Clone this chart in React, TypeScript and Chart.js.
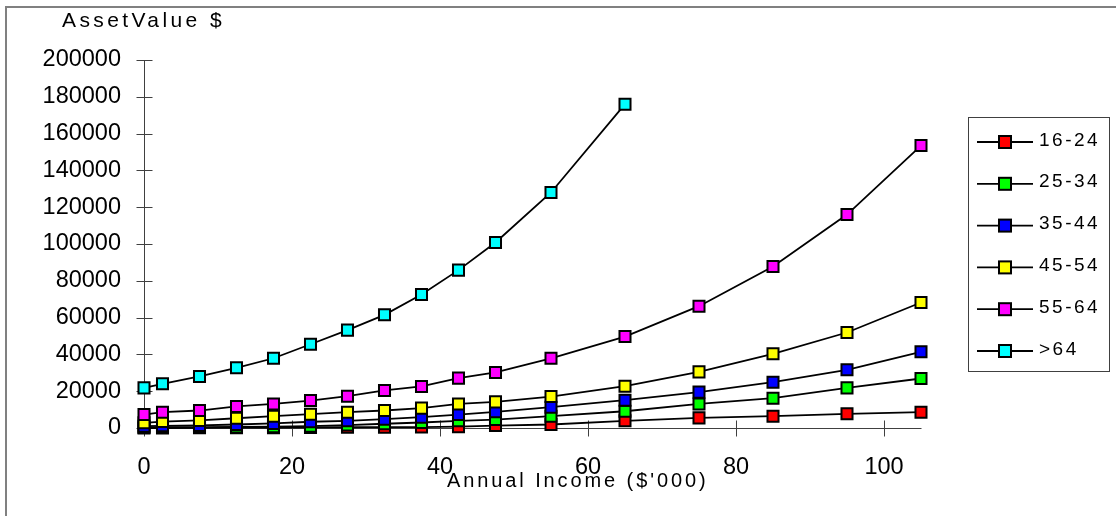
import React, { useEffect, useRef } from 'react';
import { Chart, registerables } from 'chart.js';

Chart.register(...registerables);

// Annual income ($'000) at which each age group was sampled
const incomeLevels = [0, 2.5, 7.5, 12.5, 17.5, 22.5, 27.5, 32.5, 37.5, 42.5, 47.5, 55, 65, 75, 85, 95, 105];

const ageGroups = ['16-24', '25-34', '35-44', '45-54', '55-64', '>64'];

// Asset value ($) per age group, one entry per income level
const assets16to24 = [0, 0, 100, 150, 200, 300, 400, 450, 500, 700, 1300, 1900, 3900, 5500, 6400, 7700, 8600];
const assets25to34 = [300, 400, 500, 600, 700, 1000, 1600, 2300, 3000, 3900, 4600, 6400, 9100, 13100, 16200, 21800, 26900];
const assets35to44 = [1000, 1200, 1400, 1900, 2500, 3400, 3900, 4800, 5900, 7300, 8800, 11300, 15100, 19500, 24900, 31600, 41400];
const assets45to54 = [2800, 3500, 4100, 5300, 6400, 7500, 8600, 9500, 10800, 13100, 14200, 17100, 22700, 30500, 40300, 51900, 68200];
const assets55to64 = [7300, 8600, 9500, 11700, 13100, 14900, 17300, 20400, 22600, 27100, 30200, 37900, 49700, 66200, 87800, 116000, 153500];
const assetsOver64 = [21800, 24000, 28000, 32700, 37900, 45500, 53200, 61500, 72600, 85800, 100800, 128000, 176000];

const seriesValues = [assets16to24, assets25to34, assets35to44, assets45to54, assets55to64, assetsOver64];
const seriesColors = ['#ff0000', '#00ff00', '#0000ff', '#ffff00', '#ff00ff', '#00ffff'];

const xTickValues = [0, 20, 40, 60, 80, 100];
const yTickValues = [0, 20000, 40000, 60000, 80000, 100000, 120000, 140000, 160000, 180000, 200000];

const xMax = 105;
const yMax = 200000;

const yAxisTitle = 'AssetValue $';
const xAxisTitle = "Annual Income ($'000)";

const FONT = '"Liberation Sans", Arial, sans-serif';
const AXIS_COLOR = '#404040';
const TICK_HALF = 8;

// Axes with ticks that cross the axis line, drawn under the series
const axesPlugin = {
  id: 'crossAxes',
  beforeDatasetsDraw(chart: any) {
    const { ctx } = chart;
    const xs = chart.scales.x;
    const ys = chart.scales.y;
    const left = Math.round(xs.getPixelForValue(0)) + 0.5;
    const right = Math.round(xs.getPixelForValue(xMax)) + 0.5;
    const bottom = Math.round(ys.getPixelForValue(0)) + 0.5;
    const top = Math.round(ys.getPixelForValue(yMax)) + 0.5;
    ctx.save();
    ctx.strokeStyle = AXIS_COLOR;
    ctx.lineWidth = 1;
    ctx.beginPath();
    ctx.moveTo(left, top);
    ctx.lineTo(left, bottom);
    ctx.moveTo(left, bottom);
    ctx.lineTo(right, bottom);
    yTickValues.forEach((v) => {
      const py = Math.round(ys.getPixelForValue(v)) + 0.5;
      ctx.moveTo(left - TICK_HALF, py);
      ctx.lineTo(left + TICK_HALF, py);
    });
    xTickValues.forEach((v) => {
      const px = Math.round(xs.getPixelForValue(v)) + 0.5;
      ctx.moveTo(px, bottom - TICK_HALF);
      ctx.lineTo(px, bottom + TICK_HALF);
    });
    ctx.stroke();
    ctx.restore();
  },
};

// Outer frame, axis titles and the boxed legend
const decorPlugin = {
  id: 'decor',
  afterDraw(chart: any) {
    const { ctx } = chart;
    ctx.save();

    ctx.strokeStyle = '#808080';
    ctx.lineWidth = 2;
    ctx.strokeRect(6, 7, 1200, 600);

    ctx.fillStyle = '#000';
    ctx.textAlign = 'left';
    ctx.textBaseline = 'alphabetic';
    ctx.font = `21px ${FONT}`;
    ctx.letterSpacing = '3.4px';
    ctx.fillText(yAxisTitle, 62, 27);

    ctx.font = `20px ${FONT}`;
    ctx.letterSpacing = '2.9px';
    ctx.fillText(xAxisTitle, 447, 487);

    // legend
    const boxL = 968.5, boxT = 117.5, boxW = 141, boxH = 254;
    ctx.letterSpacing = '0px';
    ctx.strokeStyle = AXIS_COLOR;
    ctx.lineWidth = 1;
    ctx.strokeRect(boxL, boxT, boxW, boxH);

    chart.data.datasets.forEach((ds: any, i: number) => {
      const cy = 142 + i * 41.8;
      ctx.strokeStyle = '#000';
      ctx.lineWidth = 1.8;
      ctx.beginPath();
      ctx.moveTo(977, cy);
      ctx.lineTo(1033, cy);
      ctx.stroke();
      ctx.fillStyle = ds.pointBackgroundColor;
      ctx.lineWidth = 2;
      ctx.fillRect(999, cy - 6, 12, 12);
      ctx.strokeRect(999, cy - 6, 12, 12);
      ctx.fillStyle = '#000';
      ctx.font = `19px ${FONT}`;
      ctx.letterSpacing = '2.5px';
      ctx.fillText(ds.label, 1039, cy + 3.5);
      ctx.letterSpacing = '0px';
    });

    ctx.restore();
  },
};

export default function App() {
  const canvasRef = useRef<HTMLCanvasElement | null>(null);

  useEffect(() => {
    if (!canvasRef.current) return;
    const datasets = ageGroups.map((label, i) => ({
      label,
      data: seriesValues[i].map((v, j) => ({ x: incomeLevels[j], y: v })),
      borderColor: '#000',
      borderWidth: 1.8,
      pointStyle: 'rect',
      pointRadius: 7.8,
      pointBorderWidth: 2,
      pointBorderColor: '#000',
      pointBackgroundColor: seriesColors[i],
      tension: 0,
      fill: false,
      clip: false,
      order: ageGroups.length - i,
    }));

    const chart = new Chart(canvasRef.current, {
      type: 'line',
      data: { datasets },
      plugins: [axesPlugin, decorPlugin],
      options: {
        animation: false,
        responsive: false,
        devicePixelRatio: 1,
        events: [],
        layout: { padding: { left: 0, top: 60, right: 1116 - 921, bottom: 0 } },
        plugins: {
          legend: { display: false },
          tooltip: { enabled: false },
          title: { display: false },
        },
        scales: {
          x: {
            type: 'linear',
            min: 0,
            max: xMax,
            afterBuildTicks: (scale: any) => {
              scale.ticks = xTickValues.map((value) => ({ value }));
            },
            afterFit: (scale: any) => {
              scale.height = 88;
            },
            grid: { display: false, drawTicks: false },
            border: { display: false },
            ticks: {
              color: '#000',
              font: { family: FONT, size: 23.5 },
              padding: 25,
              maxRotation: 0,
              autoSkip: false,
              callback: (v: any) => String(v),
            },
          },
          y: {
            type: 'linear',
            min: 0,
            max: yMax,
            afterBuildTicks: (scale: any) => {
              scale.ticks = yTickValues.map((value) => ({ value }));
            },
            afterFit: (scale: any) => {
              scale.width = 144;
            },
            grid: { display: false, drawTicks: false },
            border: { display: false },
            ticks: {
              color: '#000',
              font: { family: FONT, size: 23.5 },
              padding: 23,
              autoSkip: false,
              callback: (v: any) => String(v),
            },
          },
        },
      },
    });

    return () => chart.destroy();
  }, []);

  return (
    <div style={{ position: 'absolute', left: 0, top: 0, width: 1116, height: 516, background: '#fff' }}>
      <canvas ref={canvasRef} width={1116} height={516} style={{ display: 'block', width: 1116, height: 516 }} />
    </div>
  );
}
